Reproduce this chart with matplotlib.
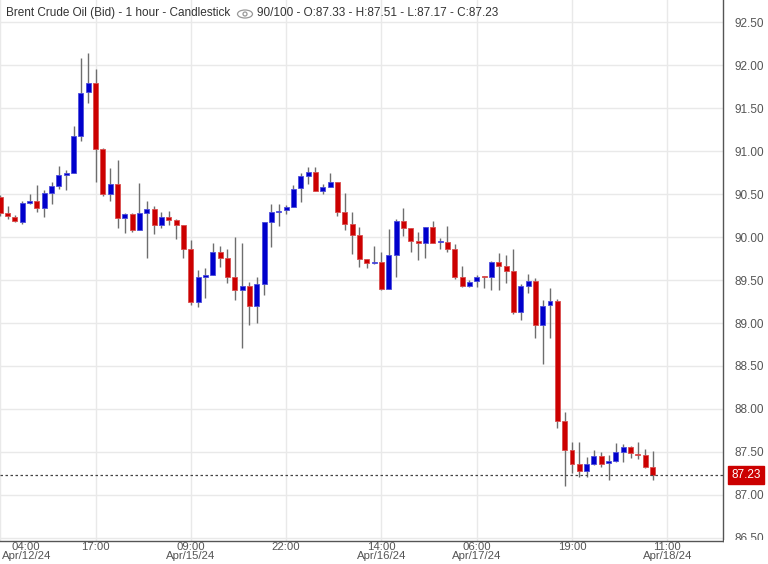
import matplotlib
matplotlib.use("Agg")
import matplotlib.pyplot as plt
from matplotlib.patches import Ellipse, Rectangle
from matplotlib.transforms import ScaledTranslation
import numpy as np

plt.rcParams['font.family'] = ['Liberation Sans', 'DejaVu Sans']

# hourly candles, Brent Crude Oil (Bid)
opens = [90.46, 90.28, 90.23, 90.18, 90.40, 90.42, 90.34, 90.51, 90.59, 90.72,
         90.74, 91.17, 91.69, 91.79, 91.02, 90.50, 90.62, 90.22, 90.27, 90.08,
         90.28, 90.32, 90.14, 90.23, 90.20, 90.14, 89.86, 89.24, 89.54, 89.56,
         89.82, 89.76, 89.54, 89.38, 89.43, 89.20, 89.45, 90.18, 90.29, 90.31,
         90.35, 90.57, 90.71, 90.76, 90.54, 90.58, 90.64, 90.29, 90.15, 90.02,
         89.75, 89.70, 89.71, 89.40, 89.79, 90.19, 90.10, 89.95, 89.93, 90.12,
         89.94, 89.94, 89.86, 89.53, 89.43, 89.49, 89.54, 89.54, 89.71, 89.66,
         89.60, 89.13, 89.43, 89.49, 88.98, 89.21, 89.26, 87.86, 87.52, 87.36,
         87.28, 87.36, 87.45, 87.37, 87.40, 87.50, 87.56, 87.48, 87.46, 87.33]
highs = [90.49, 90.36, 90.26, 90.42, 90.50, 90.60, 90.55, 90.64, 90.83, 90.78,
         91.29, 92.08, 92.14, 91.95, 91.03, 90.80, 90.89, 90.28, 90.28, 90.63,
         90.42, 90.36, 90.29, 90.30, 90.21, 90.14, 89.97, 89.62, 89.64, 89.93,
         89.89, 89.86, 90.00, 89.93, 89.48, 89.53, 90.18, 90.38, 90.38, 90.37,
         90.61, 90.74, 90.81, 90.81, 90.62, 90.75, 90.64, 90.51, 90.29, 90.12,
         89.75, 89.90, 89.82, 90.09, 90.21, 90.34, 90.10, 90.06, 90.12, 90.19,
         89.99, 90.13, 89.92, 89.66, 89.50, 89.56, 89.55, 89.72, 89.81, 89.79,
         89.86, 89.45, 89.57, 89.52, 89.27, 89.41, 89.28, 87.96, 87.62, 87.62,
         87.44, 87.52, 87.50, 87.47, 87.60, 87.59, 87.57, 87.62, 87.53, 87.51]
lows = [90.25, 90.21, 90.17, 90.15, 90.38, 90.29, 90.23, 90.38, 90.56, 90.55,
        90.74, 91.12, 91.56, 90.64, 90.48, 90.42, 90.10, 90.05, 90.06, 90.08,
        89.76, 90.04, 90.11, 90.14, 89.98, 89.76, 89.21, 89.19, 89.29, 89.56,
        89.65, 89.47, 89.27, 88.71, 88.98, 89.00, 89.32, 89.88, 90.13, 90.27,
        90.35, 90.41, 90.62, 90.53, 90.50, 90.58, 90.25, 90.08, 89.80, 89.65,
        89.64, 89.69, 89.38, 89.40, 89.53, 90.01, 89.82, 89.73, 89.76, 89.93,
        89.86, 89.83, 89.51, 89.42, 89.42, 89.42, 89.41, 89.38, 89.38, 89.46,
        89.11, 89.03, 89.35, 88.82, 88.52, 88.83, 87.78, 87.10, 87.26, 87.21,
        87.21, 87.35, 87.32, 87.18, 87.38, 87.38, 87.43, 87.42, 87.31, 87.17]
closes = [90.28, 90.24, 90.19, 90.39, 90.42, 90.34, 90.51, 90.59, 90.72, 90.74,
          91.17, 91.68, 91.79, 91.02, 90.50, 90.62, 90.22, 90.27, 90.08, 90.28,
          90.32, 90.14, 90.23, 90.20, 90.14, 89.86, 89.24, 89.54, 89.56, 89.82,
          89.76, 89.54, 89.38, 89.43, 89.20, 89.45, 90.18, 90.29, 90.30, 90.35,
          90.56, 90.71, 90.76, 90.54, 90.58, 90.64, 90.29, 90.15, 90.02, 89.75,
          89.70, 89.71, 89.40, 89.79, 90.19, 90.10, 89.95, 89.93, 90.12, 89.93,
          89.95, 89.86, 89.53, 89.43, 89.48, 89.53, 89.53, 89.71, 89.66, 89.60,
          89.13, 89.43, 89.49, 88.98, 89.20, 89.26, 87.86, 87.52, 87.36, 87.28,
          87.36, 87.45, 87.36, 87.40, 87.50, 87.56, 87.49, 87.46, 87.33, 87.23]

tick_bars = [0, 13, 26, 39, 52, 65, 78, 91]
tick_labels = ['04:00\nApr/12/24', '17:00', '09:00\nApr/15/24', '22:00',
               '14:00\nApr/16/24', '06:00\nApr/17/24', '19:00', '11:00\nApr/18/24']
price_ticks = [86.5, 87.0, 87.5, 88.0, 88.5, 89.0, 89.5, 90.0, 90.5, 91.0, 91.5, 92.0, 92.5]
last_price = 87.23
header = 'Brent Crude Oil (Bid) - 1 hour - Candlestick'
header_ohlc = '90/100 - O:87.33 - H:87.51 - L:87.17 - C:87.23'

o = np.array(opens)
c = np.array(closes)
idx = np.arange(len(o))
up = c >= o
colors = np.where(up, '#0000cc', '#cc0000')
edges = np.where(up, '#4d4ddb', '#d94d4d')

fig = plt.figure(figsize=(7.68, 5.64), dpi=100)
ax = fig.add_axes([0, 23 / 564, 723 / 768, 541 / 564])

ax.vlines(idx, lows, highs, color='#6e6e6e', lw=1, zorder=2)
body = np.maximum(np.abs(c - o), 0.012)
ax.bar(idx, body, bottom=np.minimum(o, c), width=0.68, color=colors,
       edgecolor=edges, linewidth=0.6, zorder=3)

ax.axhline(last_price, color='#444444', lw=0.9, ls=(0, (2, 2)), zorder=4)

ax.set_xlim(-0.03, 98.6)
ax.set_ylim(86.465, 92.756)
ax.set_xticks(tick_bars)
ax.set_xticklabels(tick_labels, fontsize=8.2, color='#555555', linespacing=0.85)
ax.set_yticks(price_ticks)
ax.set_yticklabels([f'{p:.2f}' for p in price_ticks], fontsize=8.5, color='#555555')
ax.yaxis.tick_right()
ax.tick_params(axis='y', length=0, pad=8)
ax.tick_params(axis='x', length=0, pad=1)
ax.grid(True, color='#e9e9e9', lw=1, zorder=0)
ax.set_axisbelow(True)
for side in ['left', 'top']:
    ax.spines[side].set_visible(False)
for side in ['right', 'bottom']:
    ax.spines[side].set_color('#555555')
    ax.spines[side].set_linewidth(1)

# first date label is pushed inside the frame
first = ax.get_xticklabels()[0]
first.set_transform(first.get_transform() + ScaledTranslation(0.26, 0, fig.dpi_scale_trans))

# last price tag
ax.annotate(f'{last_price:.2f}', xy=(1, last_price), xycoords=('axes fraction', 'data'),
            xytext=(6, 0), textcoords='offset points', ha='left', va='center',
            fontsize=8.5, color='white',
            bbox=dict(boxstyle='square,pad=0.25', fc='#cc0000', ec='#cc0000'))

# header
fig.text(6 / 768, 1 - 13 / 564, header, fontsize=8.5, color='#333333', va='center')
fig.add_artist(Ellipse((245 / 768, 1 - 14 / 564), 15 / 768, 8 / 564,
                       transform=fig.transFigure, fill=False, ec='#999999', lw=0.9))
fig.add_artist(Ellipse((245 / 768, 1 - 14 / 564), 4 / 768, 4 / 564,
                       transform=fig.transFigure, fill=False, ec='#999999', lw=0.9))
fig.text(257 / 768, 1 - 13 / 564, header_ohlc, fontsize=8.5, color='#333333', va='center')

# price column is cut at the frame bottom
fig.add_artist(Rectangle((724 / 768, 0), 44 / 768, 24 / 564, transform=fig.transFigure,
                         fc='white', ec='none', zorder=10))

fig.savefig('out.png', dpi=100)
